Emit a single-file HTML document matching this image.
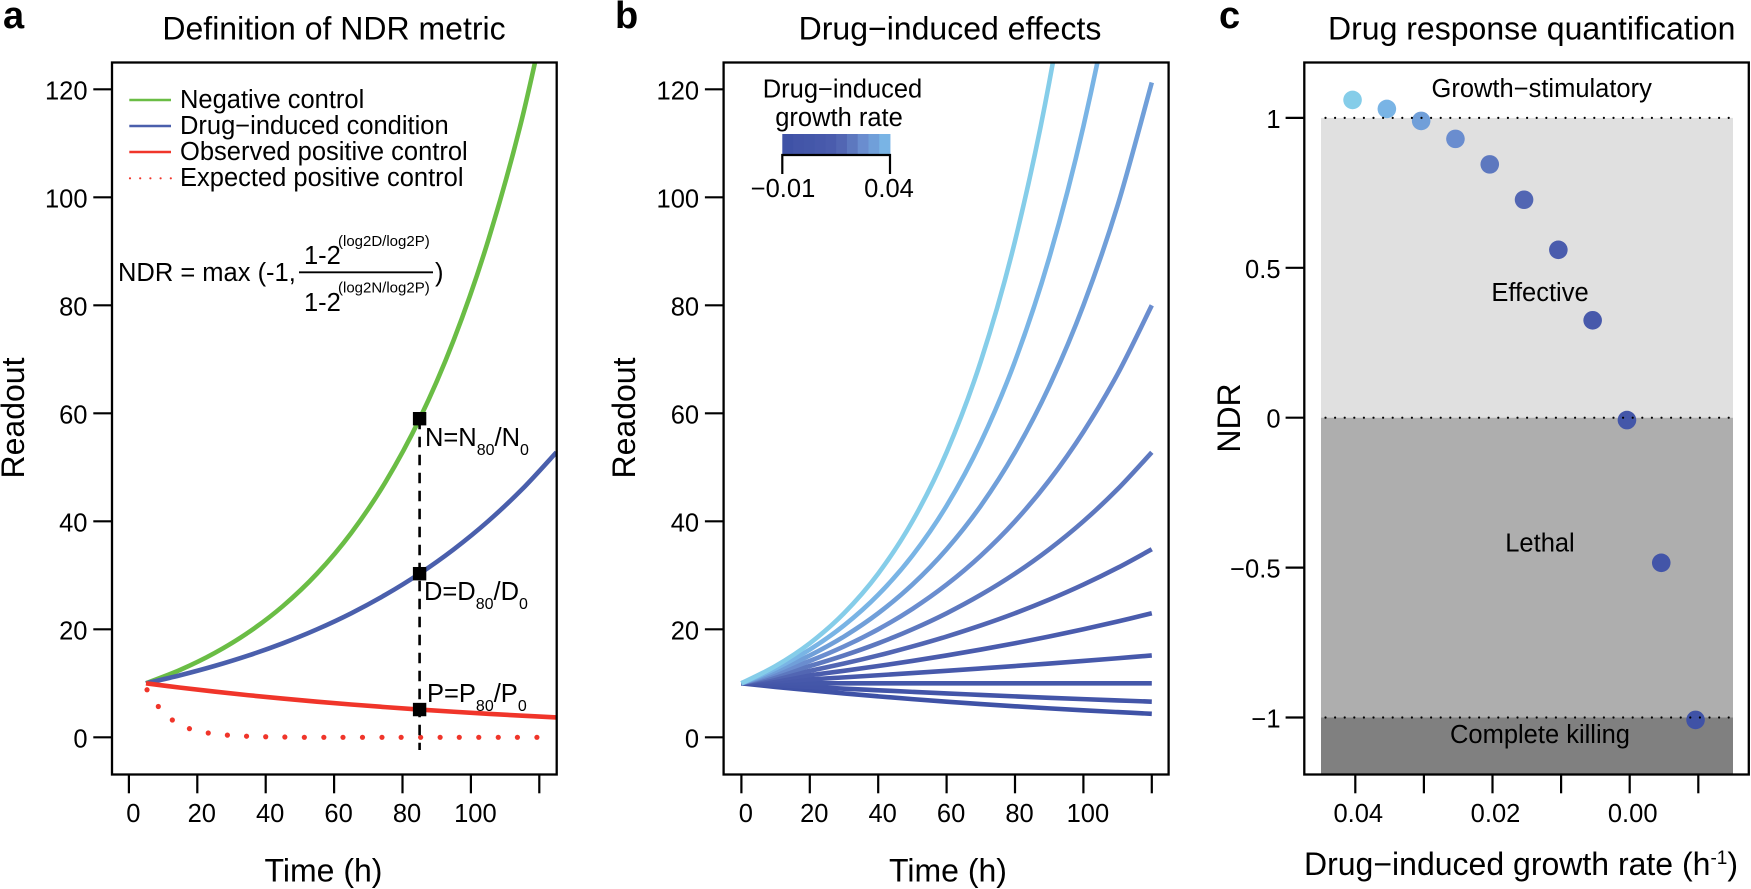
<!DOCTYPE html>
<html lang="en">
<head>
<meta charset="utf-8">
<title>NDR metric figure</title>
<style>
html,body{margin:0;padding:0;background:#fff;}
svg{display:block;font-family:"Liberation Sans",Arial,sans-serif;fill:#000;}
text{fill:#000;}
.t{font-size:32px;text-anchor:middle;}
.l{font-size:32px;text-anchor:middle;}
.k{font-size:25.5px;}
.m{font-size:25.5px;text-anchor:middle;}
.p{font-size:38px;font-weight:700;}
.box{fill:none;stroke:#000;stroke-width:2.3;}
</style>
</head>
<body>
<svg id="fig" xmlns="http://www.w3.org/2000/svg" width="1751" height="889" viewBox="0 0 1751 889">
<defs>
<clipPath id="clipA"><rect x="112" y="62.5" width="444.7" height="712"/></clipPath>
<clipPath id="clipB"><rect x="723.6" y="62.5" width="445" height="712"/></clipPath>
</defs>
<g id="bandsC"></g>
<g id="plotA"></g>
<g id="plotB"></g>
<g id="plotC"></g>

<text class="p" x="3" y="28">a</text>
<text class="p" x="615" y="28">b</text>
<text class="p" x="1219" y="28">c</text>

<text class="t" x="334" y="39.5">Definition of NDR metric</text>
<text class="t" x="950" y="39.5">Drug−induced effects</text>
<text class="t" x="1531.7" y="39.5">Drug response quantification</text>

<rect class="box" x="112" y="62.5" width="444.7" height="712"/>
<rect class="box" x="723.6" y="62.5" width="445" height="712"/>
<rect class="box" x="1304.3" y="62.5" width="444.5" height="712"/>

<text class="l" transform="translate(24,418) rotate(-90)">Readout</text>
<text class="l" transform="translate(635,418) rotate(-90)">Readout</text>
<text class="l" transform="translate(1240,418) rotate(-90)">NDR</text>
<text class="l" x="323.5" y="881.5">Time (h)</text>
<text class="l" x="948" y="881.5">Time (h)</text>
<text class="l" x="1521" y="875">Drug−induced growth rate (h<tspan dy="-11" font-size="19">-1</tspan><tspan dy="11">)</tspan></text>

<g>
<text class="k" x="118" y="281">NDR = max (-1,</text>
<text class="k" x="304" y="264">1-2</text>
<text x="338" y="246" font-size="15">(log2D/log2P)</text>
<line x1="299" x2="433" y1="272.3" y2="272.3" stroke="#000" stroke-width="1.8"/>
<text class="k" x="304" y="311">1-2</text>
<text x="338" y="292.5" font-size="15">(log2N/log2P)</text>
<text class="k" x="435" y="281">)</text>
</g>

<text class="k" x="425" y="446">N=N<tspan dy="9" font-size="16">80</tspan><tspan dy="-9">/N</tspan><tspan dy="9" font-size="16">0</tspan></text>
<text class="k" x="424" y="600">D=D<tspan dy="9" font-size="16">80</tspan><tspan dy="-9">/D</tspan><tspan dy="9" font-size="16">0</tspan></text>
<text class="k" x="427" y="702">P=P<tspan dy="9" font-size="16">80</tspan><tspan dy="-9">/P</tspan><tspan dy="9" font-size="16">0</tspan></text>

<g>
<line x1="129.3" x2="171" y1="100" y2="100" stroke="#6abd45" stroke-width="2.4"/>
<text class="k" x="180" y="108">Negative control</text>
<line x1="129.3" x2="171" y1="126" y2="126" stroke="#4a5fac" stroke-width="2.4"/>
<text class="k" x="180" y="134">Drug−induced condition</text>
<line x1="129.3" x2="171" y1="152" y2="152" stroke="#f0352a" stroke-width="2.4"/>
<text class="k" x="180" y="160">Observed positive control</text>
<line x1="130" x2="172" y1="178.3" y2="178.3" stroke="#f0352a" stroke-width="2.2" stroke-linecap="round" stroke-dasharray="0 10.2"/>
<text class="k" x="180" y="186">Expected positive control</text>
</g>

<g>
<text class="m" x="842.5" y="97.5">Drug−induced</text>
<text class="m" x="839" y="126">growth rate</text>
<g id="cbar"></g>
<path d="M782.3 174V155H890V174" fill="none" stroke="#000" stroke-width="2.2"/>
<text class="m" x="783" y="197">−0.01</text>
<text class="m" x="889" y="197">0.04</text>
</g>

<text class="m" x="1541.7" y="97">Growth−stimulatory</text>
<text class="m" x="1540" y="301">Effective</text>
<text class="m" x="1540" y="551.5">Lethal</text>
<text class="m" x="1540" y="743">Complete killing</text>

<script>
// ---- Panel a data ----
const timeTicksA = [0, 20, 40, 60, 80, 100, 120];
const timeTickLabels = ["0", "20", "40", "60", "80", "100", ""];
const readoutTicks = [0, 20, 40, 60, 80, 100, 120];
const timesA = [5, 15, 25, 35, 45, 55, 65, 75, 85, 95, 105, 115, 125];
const negativeControl = [10, 12.48, 15.58, 19.45, 24.28, 30.31, 37.84, 47.24, 58.96, 73.6, 91.9, 114.7, 143.2];
const drugCondition = [10, 11.49, 13.2, 15.16, 17.41, 20, 22.97, 26.39, 30.31, 34.82, 40, 45.95, 52.78];
const observedPositive = [10, 9.2, 8.47, 7.79, 7.17, 6.6, 6.07, 5.59, 5.14, 4.73, 4.35, 4, 3.68];
const expectedTimes = [5.3, 8.6, 12.7, 17.7, 23.2, 28.8, 34.4, 40, 45.6, 51.3, 57, 62.6, 68.3, 74, 79.6, 85.3, 91, 96.6, 102.3, 108, 113.6, 119.3];
const expectedPositive = [8.8, 5.7, 3.2, 1.6, 0.8, 0.4, 0.2, 0.1, 0.05, 0, 0, 0, 0, 0, 0, 0, 0, 0, 0, 0, 0, 0];
const markerTime = [85, 85, 85];
const markerValues = [59, 30.3, 5.14];

// ---- Panel b data ----
const timesB = [0, 10, 20, 30, 40, 50, 60, 70, 80, 90, 100, 110, 120];
const growthRates = [-0.01, -0.005, 0, 0.005, 0.01, 0.015, 0.02, 0.025, 0.03, 0.035, 0.04];
const readoutByRate = [
  [10, 9.33, 8.71, 8.12, 7.58, 7.07, 6.6, 6.16, 5.74, 5.36, 5, 4.67, 4.35],
  [10, 9.66, 9.33, 9.01, 8.71, 8.41, 8.12, 7.85, 7.58, 7.32, 7.07, 6.83, 6.6],
  [10, 10, 10, 10, 10, 10, 10, 10, 10, 10, 10, 10, 10],
  [10, 10.35, 10.72, 11.1, 11.49, 11.89, 12.31, 12.75, 13.2, 13.66, 14.14, 14.64, 15.16],
  [10, 10.72, 11.49, 12.31, 13.2, 14.14, 15.16, 16.25, 17.41, 18.66, 20, 21.44, 22.97],
  [10, 11.1, 12.31, 13.66, 15.16, 16.82, 18.66, 20.71, 22.97, 25.49, 28.28, 31.38, 34.82],
  [10, 11.49, 13.2, 15.16, 17.41, 20, 22.97, 26.39, 30.31, 34.82, 40, 45.95, 52.78],
  [10, 11.89, 14.14, 16.82, 20, 23.78, 28.28, 33.64, 40, 47.57, 56.57, 67.27, 80],
  [10, 12.31, 15.16, 18.66, 22.97, 28.28, 34.82, 42.87, 52.78, 64.98, 80, 98.49, 121.26],
  [10, 12.75, 16.25, 20.71, 26.39, 33.64, 42.87, 54.64, 69.64, 88.77, 113.14, 144.2, 183.8],
  [10, 13.2, 17.41, 22.97, 30.31, 40, 52.78, 69.64, 91.9, 121.26, 160, 211, 278]
];
const rateColors = ["#3f52a6", "#4355a8", "#4457a9", "#4759ab", "#4a5cad", "#5266b3", "#5d78bf", "#6a8dcf", "#709fd9", "#79b4e5", "#85cde9"];

// ---- Panel c data ----
const rateTicks = [0.04, 0.03, 0.02, 0.01, 0, -0.01];
const rateTickLabels = ["0.04", "", "0.02", "", "0.00", ""];
const ndrTicks = [1, 0.5, 0, -0.5, -1];
const ndrTickLabels = ["1", "0.5", "0", "−0.5", "−1"];
const pointRates = [0.0404, 0.0354, 0.0304, 0.0254, 0.0204, 0.0154, 0.0104, 0.0054, 0.0004, -0.0046, -0.0096];
const ndrValues = [1.06, 1.03, 0.99, 0.93, 0.845, 0.727, 0.56, 0.325, -0.008, -0.484, -1.008];
const ndrThresholds = [1, 0, -1];

const NS = "http://www.w3.org/2000/svg";
function mk(parent, tag, attrs, txt) {
  const el = document.createElementNS(NS, tag);
  for (const k in attrs) el.setAttribute(k, attrs[k]);
  if (txt !== undefined) el.textContent = txt;
  parent.appendChild(el);
  return el;
}
const xA = t => 128.9 + 3.42 * t;
const xB = t => 741.4 + 3.42 * t;
const yR = v => 737.3 - 5.4 * v;
const xC = r => 1629.7 - 6860 * r;
const yC = n => 417.7 - 299.8 * n;

function smooth(xs, ys, fx, fy) {
  const p = xs.map((x, i) => [fx(x), fy(ys[i])]);
  let d = "M" + p[0][0].toFixed(2) + " " + p[0][1].toFixed(2);
  for (let i = 0; i < p.length - 1; i++) {
    const a = p[Math.max(i - 1, 0)], b = p[i], c = p[i + 1], e = p[Math.min(i + 2, p.length - 1)];
    const c1x = b[0] + (c[0] - a[0]) / 6, c1y = b[1] + (c[1] - a[1]) / 6;
    const c2x = c[0] - (e[0] - b[0]) / 6, c2y = c[1] - (e[1] - b[1]) / 6;
    d += "C" + [c1x, c1y, c2x, c2y, c[0], c[1]].map(v => v.toFixed(2)).join(" ");
  }
  return d;
}

function timeAxis(g, ticks, labels, fx) {
  ticks.forEach((t, i) => {
    const tick = mk(g, "line", {x1: fx(t), x2: fx(t), y1: 774.5, y2: 793.3, stroke: "#000", "stroke-width": 2.2});
    
    
    if (labels[i]) {
      const lab = mk(g, "text", {x: fx(t) + 4.5, y: 822, class: "m"}, labels[i]);
      
      
    }
  });
}
function readoutAxis(g, ticks, left) {
  ticks.forEach(v => {
    const tick = mk(g, "line", {x1: left - 18.7, x2: left, y1: yR(v), y2: yR(v), stroke: "#000", "stroke-width": 2.2});
    
    
    const lab = mk(g, "text", {x: left - 24.5, y: yR(v) + 10, class: "k", "text-anchor": "end"}, String(v));
    
    
  });
}

// Panel a
const plotA = document.getElementById("plotA");
timeAxis(plotA, timeTicksA, timeTickLabels, xA);
readoutAxis(plotA, readoutTicks, 112);
const clipA = mk(plotA, "g", {"clip-path": "url(#clipA)"});


const neg = mk(clipA, "path", {d: smooth(timesA, negativeControl, xA, yR), fill: "none", stroke: "#6abd45", "stroke-width": 4.6});


const drug = mk(clipA, "path", {d: smooth(timesA, drugCondition, xA, yR), fill: "none", stroke: "#4a5fac", "stroke-width": 4.6});


const obs = mk(clipA, "path", {d: smooth(timesA, observedPositive, xA, yR), fill: "none", stroke: "#f0352a", "stroke-width": 4.6});


expectedTimes.forEach((t, i) => {
  const dot = mk(clipA, "circle", {cx: xA(t), cy: yR(expectedPositive[i]), r: 2.6, fill: "#f0352a"});
  
  
});
const drop = mk(plotA, "line", {x1: xA(markerTime[0]), x2: xA(markerTime[0]), y1: yR(markerValues[0]), y2: 750, stroke: "#000", "stroke-width": 2.6, "stroke-dasharray": "10.5 7.5"});


markerValues.forEach((v, i) => {
  const m = mk(plotA, "rect", {x: xA(markerTime[i]) - 6.7, y: yR(v) - 6.7, width: 13.4, height: 13.4, fill: "#000"});
  
  
});

// Panel b
const plotB = document.getElementById("plotB");
timeAxis(plotB, timeTicksA, timeTickLabels, xB);
readoutAxis(plotB, readoutTicks, 723.6);
const clipB = mk(plotB, "g", {"clip-path": "url(#clipB)"});


growthRates.forEach((r, i) => {
  const c = mk(clipB, "path", {d: smooth(timesB, readoutByRate[i], xB, yR), fill: "none", stroke: rateColors[i], "stroke-width": 4.6});
  
  
});
const cbar = document.getElementById("cbar");
const cbarColors = rateColors.slice(0, 10);
cbarColors.forEach((col, i) => {
  const cell = mk(cbar, "rect", {x: 782.3 + i * 10.77, y: 134, width: 11.2, height: 21, fill: col});
  
  
});

// Panel c
const bands = document.getElementById("bandsC");
const bandTop = mk(bands, "rect", {x: 1321, y: yC(1), width: 412, height: yC(0) - yC(1), fill: "#e0e0e0"});


const bandMid = mk(bands, "rect", {x: 1321, y: yC(0), width: 412, height: yC(-1) - yC(0), fill: "#aeaeae"});


const bandLow = mk(bands, "rect", {x: 1321, y: yC(-1), width: 412, height: 774.5 - yC(-1), fill: "#808080"});



const plotC = document.getElementById("plotC");
rateTicks.forEach((r, i) => {
  const tick = mk(plotC, "line", {x1: xC(r), x2: xC(r), y1: 774.5, y2: 793.3, stroke: "#000", "stroke-width": 2.2});
  
  
  if (rateTickLabels[i]) {
    const lab = mk(plotC, "text", {x: xC(r) + 3, y: 822, class: "m"}, rateTickLabels[i]);
    
    
  }
});
ndrTicks.forEach((n, i) => {
  const tick = mk(plotC, "line", {x1: 1285.6, x2: 1304.3, y1: yC(n), y2: yC(n), stroke: "#000", "stroke-width": 2.2});
  
  
  const lab = mk(plotC, "text", {x: 1280.5, y: yC(n) + 10, class: "k", "text-anchor": "end"}, ndrTickLabels[i]);
  
  
});
pointRates.forEach((r, i) => {
  const p = mk(plotC, "circle", {cx: xC(r), cy: yC(ndrValues[i]), r: 9.3, fill: rateColors[rateColors.length - 1 - i]});
  
  
});
ndrThresholds.forEach(n => {
  const d = mk(plotC, "line", {x1: 1325.5, x2: 1735, y1: yC(n), y2: yC(n), stroke: "#000", "stroke-width": 2.2, "stroke-linecap": "round", "stroke-dasharray": "0 9.6"});
  
  
});
</script>
</svg>
</body>
</html>
